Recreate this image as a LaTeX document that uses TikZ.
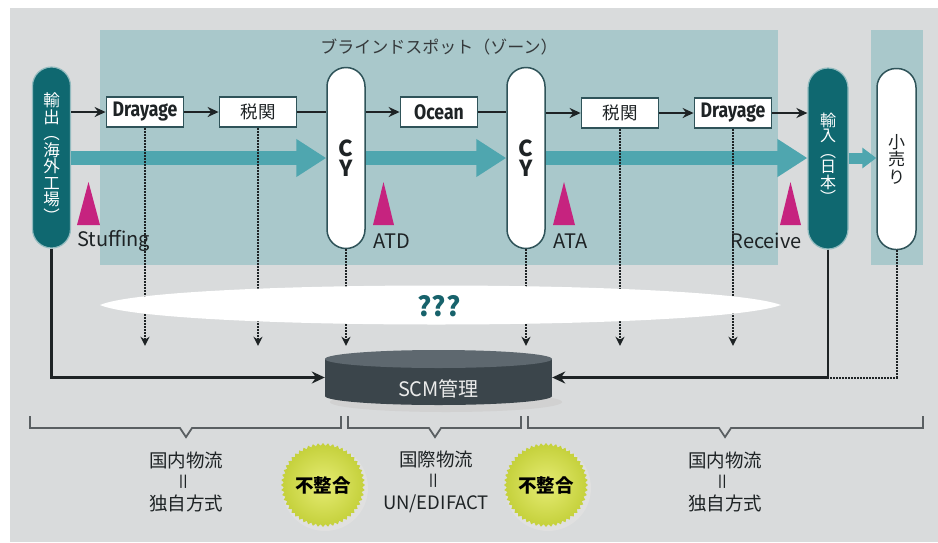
\documentclass[tikz,border=0pt]{standalone}
\usepackage{fontspec}
\setmainfont{Noto Sans CJK JP}
\newfontfamily\condfont[FakeStretch=0.84]{Fira Sans}
\usetikzlibrary{arrows.meta,shapes.geometric}
\definecolor{bggray}{HTML}{D9DBDC}
\definecolor{zone}{HTML}{A9C8CB}
\definecolor{darkteal}{HTML}{0F6870}
\definecolor{flowteal}{HTML}{4FA6AF}
\definecolor{magentaT}{HTML}{C6237F}
\definecolor{boxline}{HTML}{2F5359}
\definecolor{ink}{HTML}{1E2325}
\definecolor{cylbody}{HTML}{3B454B}
\definecolor{cyltop}{HTML}{5E686F}
\definecolor{burst}{HTML}{C4D03A}
\definecolor{burstin}{HTML}{E6EC74}
\definecolor{bracegray}{HTML}{5A5F62}
\definecolor{qteal}{HTML}{17626B}
\newcommand{\vbars}{\scalebox{1}[1.5]{\rotatebox{90}{=}}}
\begin{document}
\begin{tikzpicture}[x=1pt,y=-1pt,
  pill/.style={rounded corners=19pt, minimum width=38pt, minimum height=181pt, inner sep=0pt, align=center},
  darkpill/.style={pill, fill=darkteal, draw=white!55!darkteal, line width=1.2pt, text=white},
  whitepill/.style={pill, fill=white, draw=boxline, line width=1.5pt, text=ink},
  procbox/.style={draw=boxline, fill=white, line width=1.8pt, minimum width=77pt, minimum height=30pt, inner sep=0pt, text=ink},
  flow/.style={-{Stealth[length=11pt,width=10pt]}, line width=2pt, draw=ink},
  link/.style={line width=2pt, draw=ink},
  bigflow/.style={draw=flowteal, line width=14pt, -{Triangle[length=30pt,width=36pt]}},
  smallflow/.style={draw=flowteal, line width=11pt, -{Triangle[length=14pt,width=20pt]}},
  dotarrow/.style={dash pattern=on 1.6pt off 1.4pt, line width=2pt, draw=ink, -{Stealth[length=9pt,width=9pt]}, shorten >=4pt},
  dotline/.style={dash pattern=on 1.6pt off 1.4pt, line width=2pt, draw=ink},
  solidarrow/.style={line width=2.4pt, draw=ink, -{Stealth[length=13pt,width=12pt]}},
  brace/.style={draw=bracegray, line width=1.8pt},
  marker/.style={fill=magentaT},
  evlabel/.style={font=\fontsize{20}{22}\selectfont, text=ink, inner sep=0pt},
  boxtxt/.style={font=\condfont\bfseries\fontsize{21}{22}\selectfont},
  cjkbox/.style={font=\fontsize{17.5}{19}\selectfont},
  undertxt/.style={font=\fontsize{18.5}{21.5}\selectfont, text=ink, align=center},
  burststyle/.style={star, star points=52, star point ratio=1.07, minimum size=78pt, inner sep=0pt,
     shading=radial, inner color=burstin, outer color=burst, font=\bfseries\fontsize{18.5}{20}\selectfont, text=black}
]
% canvas
\useasboundingbox (0,0) rectangle (938,542);
\fill[white] (0,0) rectangle (938,542);
\fill[bggray] (10,8) rectangle (938,542);
% zones
\fill[zone] (100,30) rectangle (778,265);
\fill[zone] (871,30) rectangle (923,265);
\node[font=\fontsize{17}{18}\selectfont, text=ink!90] (zonetitle) at (439,47) {ブラインドスポット（ゾーン）};

% pills
\node[darkpill, font=\fontsize{16.5}{16.5}\selectfont] (exp) at (51.5,157.5) {輸\\出\\︵\\海\\外\\工\\場\\︶};
\node[whitepill, font=\bfseries\fontsize{22}{20}\selectfont] (cy1) at (346,158) {C\\Y};
\node[whitepill, font=\bfseries\fontsize{22}{20}\selectfont] (cy2) at (526,158) {C\\Y};
\node[darkpill, minimum width=40pt, rounded corners=20pt, font=\fontsize{16}{15.5}\selectfont] (imp) at (828,158.5) {輸\\入\\︵\\日\\本\\︶};
\node[whitepill, minimum width=39pt, font=\fontsize{17}{17.5}\selectfont] (ret) at (896.5,159) {小\\売\\り};

% process boxes
\node[procbox, boxtxt] (dr1) at (145,112) {Drayage};
\node[procbox, cjkbox] (cu1) at (258,112) {税関};
\node[procbox, boxtxt] (oc) at (439,112) {Ocean};
\node[procbox, cjkbox] (cu2) at (620,113) {税関};
\node[procbox, boxtxt] (dr2) at (733,113) {Drayage};

% upper flow
\draw[flow] (exp.east |- dr1.west) -- (dr1.west);
\draw[flow] (dr1) -- (cu1);
\draw[link] (cu1.east) -- (cu1.east -| cy1.west);
\draw[flow] (cy1.east |- oc.west) -- (oc.west);
\draw[link] (oc.east) -- (oc.east -| cy2.west);
\draw[flow] (cy2.east |- cu2.west) -- (cu2.west);
\draw[flow] (cu2) -- (dr2);
\draw[flow] (dr2.east) -- (dr2.east -| imp.west);

% big flows
\draw[bigflow] (exp.east |- 0,158) -- (cy1.west |- 0,158);
\draw[bigflow] (cy1.east |- 0,158) -- (cy2.west |- 0,158);
\draw[bigflow] (cy2.east |- 0,158) -- (imp.west |- 0,158);
\draw[smallflow] (imp.east |- 0,158) -- (ret.west |- 0,158);

% markers
\fill[marker] (77,225) -- (88.5,182) -- (100,225) -- cycle;
\fill[marker] (373,225) -- (383.5,182) -- (394,225) -- cycle;
\fill[marker] (553,225) -- (564,182) -- (575,225) -- cycle;
\fill[marker] (780,225) -- (790.5,182) -- (801,225) -- cycle;
\node[evlabel, anchor=west] (l1) at (77,241) {Stuffing};
\node[evlabel, anchor=west] (l2) at (373,241) {ATD};
\node[evlabel, anchor=west] (l3) at (553,241) {ATA};
\node[evlabel, anchor=east] (l4) at (802,241) {Receive};

% SCM cylinder
\node[minimum width=227pt, minimum height=55pt, inner sep=0pt] (scm) at (438.5,377.5) {};
\fill[black!18] (446,402) ellipse [x radius=116pt, y radius=10pt];
\fill[cylbody] (325,359) rectangle (552,396);
\fill[cylbody] (438.5,396) ellipse [x radius=113.5pt, y radius=9pt];
\fill[cyltop] (438.5,359) ellipse [x radius=113.5pt, y radius=9pt];
\node[font=\fontsize{20}{22}\selectfont, text=white!92!black] (scmtxt) at (438.5,389) {SCM管理};

% dotted reports
\draw[dotarrow] (dr1.south) -- (dr1.south |- scm.north);
\draw[dotarrow] (cu1.south) -- (cu1.south |- scm.north);
\draw[dotarrow] (cy1.south) -- (cy1.south |- scm.north);
\draw[dotarrow] (cy2.south) -- (cy2.south |- scm.north);
\draw[dotarrow] (cu2.south) -- (cu2.south |- scm.north);
\draw[dotarrow] (dr2.south) -- (dr2.south |- scm.north);

% solid feeds
\coordinate (join) at (imp.south |- scm.east);
\draw[solidarrow] (exp.south) |- (scm.west);
\draw[solidarrow] (imp.south) -- (join) -- (scm.east);
\draw[dotline] (ret.south) |- (join);

% blind ellipse
\fill[white] (100,305) .. controls (160,279) and (710,279) .. (781,305) .. controls (710,331) and (160,331) .. (100,305) -- cycle;
\node[font=\bfseries\fontsize{27}{28}\selectfont, text=qteal] (unk) at (439,306) {???};

% braces
\draw[brace] (30,416) -- (30,428) -- (180,428) -- (186,437) -- (192,428) -- (341,428) -- (341,416);
\draw[brace] (348,416) -- (348,428) -- (429,428) -- (435,437) -- (441,428) -- (521,428) -- (521,416);
\draw[brace] (528,416) -- (528,428) -- (719,428) -- (725,437) -- (731,428) -- (923,428) -- (923,416);

\node[undertxt] (dom1) at (186,482) {国内物流\\\vbars\\独自方式};
\node[undertxt] (intl) at (436,482) {国際物流\\\vbars\\UN/EDIFACT};
\node[undertxt] (dom2) at (725,482) {国内物流\\\vbars\\独自方式};

% mismatches
\fill[black!12] (325,488) circle (43pt);
\fill[black!12] (548,488) circle (43pt);
\node[burststyle] (mis1) at (323,485) {不整合};
\node[burststyle] (mis2) at (546,485) {不整合};
\end{tikzpicture}
\end{document}
